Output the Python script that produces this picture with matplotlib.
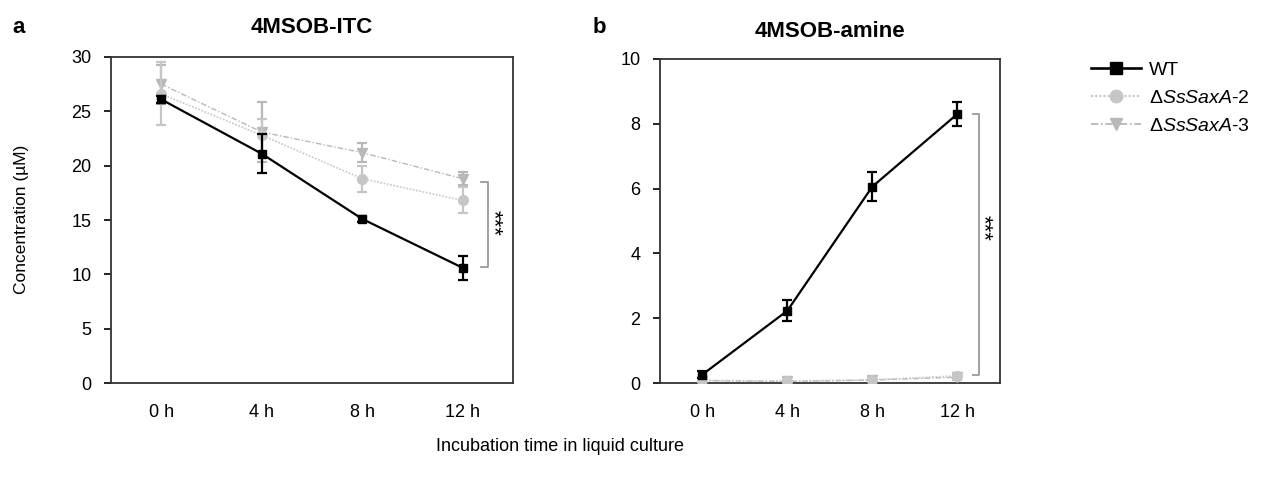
import matplotlib
matplotlib.use("Agg")
import matplotlib.pyplot as plt
from matplotlib.lines import Line2D

plt.rcParams["font.family"] = ["Liberation Sans", "DejaVu Sans"]
plt.rcParams["mathtext.fontset"] = "custom"
plt.rcParams["mathtext.rm"] = "Liberation Sans"
plt.rcParams["mathtext.it"] = "Liberation Sans:italic"

# data
time_labels = ["0 h", "4 h", "8 h", "12 h"]
series_names = ["WT", "\u0394$\\mathit{SsSaxA}$-2", "\u0394$\\mathit{SsSaxA}$-3"]

itc_wt = [26.1, 21.1, 15.1, 10.6]
itc_wt_err = [0.3, 1.8, 0.3, 1.1]
itc_ko2 = [26.6, 22.8, 18.8, 16.8]
itc_ko2_err = [2.9, 1.5, 1.2, 1.2]
itc_ko3 = [27.5, 23.1, 21.2, 18.8]
itc_ko3_err = [1.8, 2.8, 0.9, 0.6]

amine_wt = [0.26, 2.23, 6.06, 8.30]
amine_wt_err = [0.1, 0.32, 0.44, 0.36]
amine_ko2 = [0.08, 0.06, 0.10, 0.22]
amine_ko2_err = [0.04, 0.04, 0.05, 0.10]
amine_ko3 = [0.07, 0.05, 0.09, 0.18]
amine_ko3_err = [0.03, 0.03, 0.04, 0.08]

BLACK = "#000000"
LIGHT = "#c6c6c6"
MID = "#b8b8b8"

styles = [
    dict(color=BLACK, marker="s", ms=6, ls="-", lw=1.6, zorder=5),
    dict(color=LIGHT, marker="o", ms=7, ls=(0, (1, 1)), lw=1.2, zorder=4),
    dict(color=MID, marker="v", ms=7, ls=(0, (4, 1.5, 1, 1.5)), lw=1.0, zorder=3),
]


def draw_panel(ax, series, errs, ylim, yticks, bracket, star_y):
    x = list(range(len(time_labels)))
    for vals, err, st in zip(series, errs, styles):
        ax.errorbar(x, vals, yerr=err, color=st["color"], marker=st["marker"],
                    ms=st["ms"], ls=st["ls"], lw=st["lw"], elinewidth=1.6,
                    capsize=3.5, capthick=1.6, zorder=st["zorder"])
    ax.set_xlim(-0.5, 3.5)
    ax.set_ylim(*ylim)
    ax.set_yticks(yticks)
    ax.set_xticks(x)
    ax.set_xticklabels(time_labels)
    ax.tick_params(axis="x", length=0, pad=15, labelsize=13)
    ax.tick_params(axis="y", length=5, width=1.2, direction="out", labelsize=13, pad=9)
    for sp in ax.spines.values():
        sp.set_linewidth(1.3)
        sp.set_color("#333333")
    # significance bracket
    bx = 3.25
    lo, hi = bracket
    ax.plot([bx - 0.07, bx, bx, bx - 0.07], [hi, hi, lo, lo], color="#999999",
            lw=1.3, clip_on=False)
    ax.text(bx + 0.05, star_y, "***", rotation=270, ha="center", va="center",
            fontsize=16)


fig = plt.figure(figsize=(12.64, 4.83), dpi=100)
ax1 = fig.add_axes([0.0878, 0.207, 0.318, 0.675])
ax2 = fig.add_axes([0.522, 0.207, 0.269, 0.671])

draw_panel(ax1, [itc_wt, itc_ko2, itc_ko3], [itc_wt_err, itc_ko2_err, itc_ko3_err],
           (0, 30), range(0, 31, 5), (10.7, 18.5), 14.7)
draw_panel(ax2, [amine_wt, amine_ko2, amine_ko3],
           [amine_wt_err, amine_ko2_err, amine_ko3_err],
           (0, 10), range(0, 11, 2), (0.25, 8.3), 4.8)

ax1.set_title("4MSOB-ITC", fontsize=16, fontweight="bold", pad=17)
ax2.set_title("4MSOB-amine", fontsize=16, fontweight="bold", pad=16)
fig.text(0.010, 0.932, "a", fontsize=16, fontweight="bold")
fig.text(0.469, 0.932, "b", fontsize=16, fontweight="bold")
fig.text(0.017, 0.545, "Concentration (\u00b5M)", rotation=90, ha="center",
         va="center", fontsize=12.5)
fig.text(0.443, 0.075, "Incubation time in liquid culture", ha="center",
         va="center", fontsize=13)

handles = [Line2D([], [], color=st["color"], marker=st["marker"], ms=st["ms"] + 2,
                  ls=st["ls"], lw=st["lw"] + 0.3) for st in styles]
fig.legend(handles, series_names, loc="upper left", bbox_to_anchor=(0.849, 0.91),
           frameon=False, fontsize=14, handlelength=2.6, labelspacing=0.55,
           handletextpad=0.4)

fig.savefig("out.png", dpi=100)
